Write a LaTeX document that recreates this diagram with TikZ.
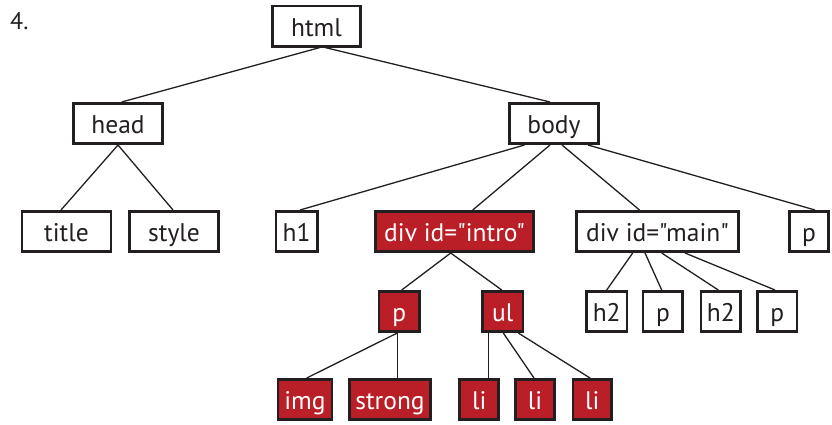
\documentclass[tikz,border=0pt]{standalone}
\usepackage{fontspec}
\setmainfont{PT Sans}[Ligatures=TeXOff]
\definecolor{ink}{HTML}{231F20}
\definecolor{hl}{HTML}{BA1E27}
\begin{document}
\begin{tikzpicture}[x=1pt,y=-1pt,
  box/.style={draw=ink, line width=2.6pt, fill=white, inner sep=0pt,
    minimum height=40.4pt, text height=20pt, text depth=0pt,
    font=\fontsize{25.5}{29}\selectfont, text=ink},
  hot/.style={box, fill=hl, text=white},
  edge/.style={draw=ink, line width=1.3pt}]
\useasboundingbox (0,0) rectangle (832,424);
\node[anchor=base west, inner sep=0pt, font=\fontsize{24}{28}\selectfont, text=ink] (num) at (10,29) {4.};
% level 0/1
\node[box, minimum width=88.4pt] (html) at (316.5,26) {html};
\node[box, minimum width=89.4pt] (head) at (118,123.5) {head};
\node[box, minimum width=89.4pt] (body) at (554,123.5) {body};
% level 2
\node[box, minimum width=89pt] (title) at (66.5,231.5) {title};
\node[box, minimum width=89pt] (style) at (174,231.5) {style};
\node[box, minimum width=41.4pt] (h1) at (296.5,231.5) {h1};
\node[hot, minimum width=158.4pt] (intro) at (454.5,231.5) {div id="intro"};
\node[box, minimum width=162.4pt] (main) at (657.5,231.5) {div id="main"};
\node[box, minimum width=39.4pt] (pr) at (809,231.5) {p};
% level 3
\node[hot, minimum width=40.7pt] (pa) at (399.3,311.5) {p};
\node[hot, minimum width=40.7pt] (ul) at (502.7,311.5) {ul};
\node[box, minimum width=40.7pt] (h2a) at (606.7,311.5) {h2};
\node[box, minimum width=39.7pt] (pb) at (662.9,311.5) {p};
\node[box, minimum width=39.4pt] (h2b) at (720.8,311.5) {h2};
\node[box, minimum width=39.7pt] (pc) at (777.2,311.5) {p};
% level 4
\node[hot, minimum width=54pt] (img) at (305,399.5) {img};
\node[hot, minimum width=80.8pt] (strong) at (390,399.5) {strong};
\node[hot, minimum width=39.1pt] (lia) at (479.2,399.5) {li};
\node[hot, minimum width=39.4pt] (lib) at (535,399.5) {li};
\node[hot, minimum width=38.4pt] (lic) at (592.2,399.5) {li};
% edges
\draw[edge] ([xshift=3.5pt]html.south) -- ([xshift=3.7pt]head.north);
\draw[edge] ([xshift=8.5pt]html.south) -- ([xshift=-4pt]body.north);
\draw[edge] (head.south) -- ([xshift=-5.5pt]title.north);
\draw[edge] (head.south) -- ([xshift=-1pt]style.north);
\draw[edge] ([xshift=-29.5pt]body.south) -- ([xshift=3.5pt]h1.north);
\draw[edge] ([xshift=-4pt]body.south) -- ([xshift=18.2pt]intro.north);
\draw[edge] ([xshift=8pt]body.south) -- ([xshift=-18pt]main.north);
\draw[edge] ([xshift=34pt]body.south) -- ([xshift=6pt]pr.north);
\draw[edge] ([xshift=-3.8pt]intro.south) -- ([xshift=2.4pt]pa.north);
\draw[edge] ([xshift=-3.8pt]intro.south) -- ([xshift=-1pt]ul.north);
\draw[edge] ([xshift=-2pt]pa.south) -- ([xshift=1.7pt]img.north);
\draw[edge] ([xshift=-1.6pt]pa.south) -- ([xshift=7.7pt]strong.north);
\draw[edge] ([xshift=-14pt]ul.south) -- ([xshift=9.5pt]lia.north);
\draw[edge] ([xshift=0.6pt]ul.south) -- ([xshift=-1pt]lib.north);
\draw[edge] ([xshift=15.6pt]ul.south) -- ([xshift=-2.2pt]lic.north);
\draw[edge] ([xshift=-24.8pt]main.south) -- (h2a.north);
\draw[edge] ([xshift=-12.5pt]main.south) -- ([xshift=-1.2pt]pb.north);
\draw[edge] ([xshift=4.2pt]main.south) -- ([xshift=-2.5pt]h2b.north);
\draw[edge] ([xshift=27.5pt]main.south) -- ([xshift=-2.2pt]pc.north);
\end{tikzpicture}
\end{document}
